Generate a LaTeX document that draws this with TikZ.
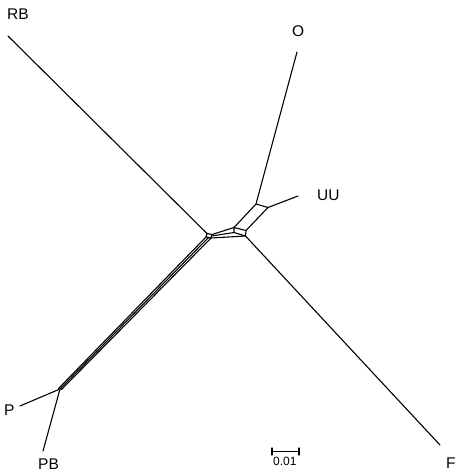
\documentclass[tikz,border=0pt]{standalone}
\usepackage{fontspec}
\setmainfont{Liberation Sans}
\begin{document}
\begin{tikzpicture}[x=1pt,y=-1pt,
  edge/.style={line width=1.1pt,line cap=round,line join=round},
  lab/.style={font=\fontsize{15.5}{17}\selectfont,inner sep=0pt},
  small/.style={font=\fontsize{12}{14}\selectfont,inner sep=0pt}]
\useasboundingbox (0,0) rectangle (462,475);
% left box
\coordinate (L1) at (207,233.5);
\coordinate (L2) at (212,234.5);
\coordinate (L3) at (211,238);
\coordinate (L4) at (206,237);
% right box
\coordinate (R1) at (234,227.5);
\coordinate (R2) at (246,230.5);
\coordinate (R3) at (245.5,236);
\coordinate (R4) at (234,232.5);
% upper nodes
\coordinate (NO) at (256,204);
\coordinate (NU) at (268,207.5);
% P junction
\coordinate (NP) at (60,389);
\coordinate (NPa) at (58.5,388.5);
\coordinate (NPb) at (61.5,389.5);
% leaves
\coordinate (eRB) at (8,36);
\coordinate (eO) at (297,52);
\coordinate (eUU) at (298,196);
\coordinate (eF) at (440,445);
\coordinate (eP) at (20,406);
\coordinate (ePB) at (43,451);
\coordinate (s1) at (272,451.5);
\coordinate (s2) at (299,451.5);

\draw[edge] (L1) -- (L2) -- (L3) -- (L4) -- cycle;
\draw[edge] (R1) -- (R2) -- (R3) -- (R4) -- cycle;
\draw[edge] (L2) -- (R1);
\draw[edge] (L3) -- (R3);
\draw[edge] (211.5,236) -- (R4);
\draw[edge] (R1) -- (NO) -- (NU) -- (R2);
\draw[edge] (L1) -- (eRB);
\draw[edge] (NO) -- (eO);
\draw[edge] (NU) -- (eUU);
\draw[edge] (R3) -- (eF);
\draw[edge] (L4) -- (NPa);
\draw[edge] (L3) -- (NPb);
\draw[edge] (208.5,237.5) -- (NP);
\draw[edge] (NP) -- (eP);
\draw[edge] (NP) -- (ePB);
\draw[edge] (s1) -- (s2);
\draw[edge] (272,448) -- (272,455);
\draw[edge] (299,448) -- (299,455);

\node[lab,anchor=south west] (tRB) at (7,20) {RB};
\node[lab,anchor=south west] (tO) at (292,37) {O};
\node[lab,anchor=west] (tUU) at (317,195) {UU};
\node[lab,anchor=west] (tP) at (4,410.5) {P};
\node[lab,anchor=north west] (tPB) at (38,459) {PB};
\node[lab,anchor=north west] (tF) at (446,458) {F};
\node[small,anchor=north west] (tS) at (273,456.5) {0.01};
\end{tikzpicture}
\end{document}
